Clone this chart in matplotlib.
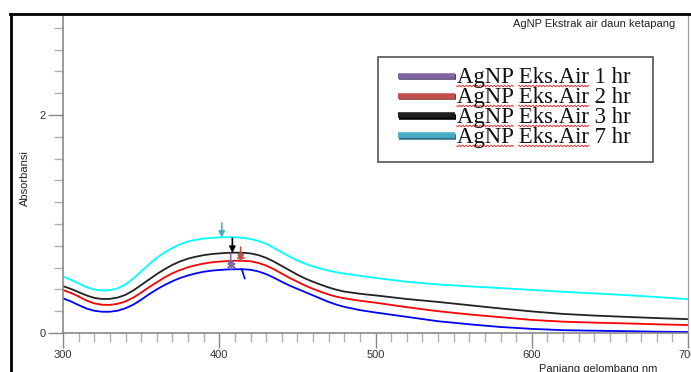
"""UV-Vis absorbance of AgNP (ketapang leaf water extract) at 1, 2, 3 and 7 hr."""
import numpy as np
import matplotlib

matplotlib.use("Agg")
import matplotlib.pyplot as plt
import matplotlib.patheffects as pe
from matplotlib.lines import Line2D
from matplotlib.patches import Rectangle
from matplotlib.ticker import MultipleLocator
from matplotlib.transforms import IdentityTransform

W, H = 691, 372

wavelength = [300, 305, 310, 315, 320, 325, 330, 335, 340, 345, 350, 355, 360, 365, 370,
              375, 380, 385, 390, 395, 400, 405, 410, 415, 420, 425, 430, 435, 440, 445,
              450, 455, 460, 465, 470, 475, 480, 490, 500, 520, 540, 560, 580, 600, 620,
              640, 660, 680, 700]
abs_7hr = [0.517, 0.488, 0.455, 0.420, 0.398, 0.390, 0.392, 0.410, 0.445, 0.500, 0.565,
           0.630, 0.690, 0.740, 0.780, 0.815, 0.840, 0.855, 0.866, 0.873, 0.877, 0.879,
           0.878, 0.873, 0.862, 0.845, 0.818, 0.780, 0.740, 0.700, 0.665, 0.635, 0.610,
           0.590, 0.572, 0.557, 0.545, 0.525, 0.505, 0.470, 0.445, 0.428, 0.412, 0.395,
           0.378, 0.363, 0.348, 0.330, 0.310]
abs_3hr = [0.430, 0.405, 0.375, 0.345, 0.322, 0.312, 0.313, 0.325, 0.350, 0.390, 0.440,
           0.490, 0.540, 0.585, 0.625, 0.657, 0.682, 0.700, 0.714, 0.724, 0.730, 0.735,
           0.737, 0.736, 0.730, 0.715, 0.690, 0.655, 0.615, 0.575, 0.535, 0.500, 0.470,
           0.443, 0.418, 0.397, 0.380, 0.360, 0.345, 0.312, 0.285, 0.255, 0.225, 0.198,
           0.175, 0.160, 0.148, 0.137, 0.127]
abs_2hr = [0.394, 0.368, 0.335, 0.298, 0.272, 0.259, 0.258, 0.268, 0.290, 0.325, 0.370,
           0.420, 0.465, 0.510, 0.548, 0.578, 0.603, 0.622, 0.637, 0.648, 0.655, 0.660,
           0.663, 0.663, 0.658, 0.643, 0.618, 0.585, 0.545, 0.505, 0.470, 0.435, 0.405,
           0.378, 0.353, 0.333, 0.318, 0.296, 0.278, 0.237, 0.200, 0.170, 0.145, 0.120,
           0.104, 0.095, 0.088, 0.080, 0.073]
abs_1hr = [0.318, 0.290, 0.256, 0.225, 0.204, 0.195, 0.195, 0.205, 0.227, 0.260, 0.305,
           0.355, 0.400, 0.440, 0.475, 0.505, 0.528, 0.547, 0.562, 0.572, 0.578, 0.583,
           0.585, 0.585, 0.580, 0.565, 0.540, 0.507, 0.470, 0.435, 0.405, 0.375, 0.345,
           0.315, 0.285, 0.260, 0.240, 0.210, 0.188, 0.148, 0.108, 0.080, 0.055, 0.038,
           0.026, 0.021, 0.017, 0.012, 0.009]

# peak-pick arrows (7 hr, 3 hr, 2 hr, 1 hr)
peak_nm = [401.6, 408.4, 413.7, 407.3]
peak_abs = [0.874, 0.734, 0.654, 0.594]
hook_nm = [414.3, 415.0, 415.6, 416.3]
hook_abs = [0.585, 0.560, 0.530, 0.500]

legend_labels = ["AgNP Eks.Air 1 hr", "AgNP Eks.Air 2 hr", "AgNP Eks.Air 3 hr", "AgNP Eks.Air 7 hr"]
legend_colors = ["#8064a2", "#c0504d", "#1e1e1e", "#4bacc6"]
legend_shadow = ["#4f3d66", "#7d2f2d", "#000000", "#2b7288"]

plt.rcParams["font.family"] = ["Liberation Sans", "DejaVu Sans"]
fig = plt.figure(figsize=(W / 100, H / 100), dpi=100)
ax = fig.add_axes([63 / W, 1 - 333 / H, (688 - 63) / W, (333 - 14) / H])

for y, c in [(abs_1hr, "#0000ff"), (abs_2hr, "#ff0000"), (abs_3hr, "#222222"), (abs_7hr, "#00ffff")]:
    ax.plot(wavelength, y, color=c, lw=1.3)

for nm, a, c in zip(peak_nm, peak_abs, ["#4bacc6", "#000000", "#c0504d", "#8064a2"]):
    ax.annotate("", xy=(nm, a), xytext=(nm, a + 0.135),
                arrowprops=dict(arrowstyle="-|>", color=c, lw=1.2, mutation_scale=9,
                                shrinkA=0, shrinkB=0))
ax.plot(peak_nm[2], peak_abs[2] + 0.035, marker="+", ms=6, mew=1.2, color="#c0504d")
ax.plot(peak_nm[3], peak_abs[3] + 0.03, marker=(6, 2, 0), ms=6, mew=1, color="#8064a2")
ax.plot(hook_nm, hook_abs, color="#0000ff", lw=1.2)

ax.set_xlim(300, 700); ax.set_ylim(0, (333 - 14) / 109)
ax.set_xticks(range(300, 701, 100)); ax.set_yticks([0, 2])
ax.xaxis.set_minor_locator(MultipleLocator(10)); ax.yaxis.set_minor_locator(MultipleLocator(0.2))
ax.tick_params(which="major", length=10.5, width=1, color="#888888", labelsize=8,
               labelcolor="#333333", pad=2)
ax.tick_params(which="minor", length=6.5, width=1, color="#b0b0b0")
ax.spines["top"].set_visible(False)
for s in ["left", "bottom"]:
    ax.spines[s].set_color("#808080"); ax.spines[s].set_linewidth(1.1)
ax.spines["right"].set_color("#a0a0a0"); ax.spines["right"].set_linewidth(0.9)

ax.set_ylabel("Absorbansi", fontsize=8, color="#222222")
ax.yaxis.set_label_coords(-0.053, 0.485)
ax.set_xlabel("Panjang gelombang nm", fontsize=8, color="#222222")
ax.xaxis.set_label_coords(0.856, -0.098)
ax.text(0.979, 0.969, "AgNP Ekstrak air daun ketapang", transform=ax.transAxes,
        ha="right", va="center", fontsize=8, color="#222222")

handles = [Line2D([], [], color=c, lw=4, solid_capstyle="butt",
                  path_effects=[pe.SimpleLineShadow(offset=(0.6, -1.2), shadow_color=s, alpha=1),
                                pe.Normal()])
           for c, s in zip(legend_colors, legend_shadow)]
leg = fig.legend(handles, legend_labels, loc="upper left", bbox_to_anchor=(398 / W, 1 - 67.5 / H),
                 frameon=False, borderpad=0, borderaxespad=0, handlelength=2.5,
                 handletextpad=0.08, labelspacing=-0.045,
                 prop={"family": ["Liberation Serif", "DejaVu Serif"], "size": 16.4})
for t in leg.get_texts():
    t.set_color("#111111")
fig.add_artist(Rectangle((378 / W, 1 - 162 / H), (653 - 378) / W, (162 - 57) / H,
                         transform=fig.transFigure, fill=False, ec="#555555", lw=1.2))

# page frame (document border, top and left only)
fig.add_artist(Line2D([10 / W, 1], [1 - 14 / H] * 2, color="black", lw=2, transform=fig.transFigure))
fig.add_artist(Line2D([11 / W] * 2, [0, 1 - 14 / H], color="black", lw=2, transform=fig.transFigure))

# spell-check squiggles under "AgNP" and "Eks.Air"
fig.canvas.draw()
r = fig.canvas.get_renderer()
for t in leg.get_texts():
    bb = t.get_window_extent(r)
    fp = t.get_fontproperties()
    _, _, desc = r.get_text_width_height_descent("Ag", fp, ismath=False)
    w1 = r.get_text_width_height_descent("AgNP", fp, ismath=False)[0]
    w2 = r.get_text_width_height_descent("AgNP ", fp, ismath=False)[0]
    w3 = r.get_text_width_height_descent("AgNP Eks.Air", fp, ismath=False)[0]
    base = bb.y0 + desc - 2.5
    for a, b in [(0, w1), (w2, w3)]:
        xs = np.arange(bb.x0 + a, bb.x0 + b, 0.5)
        fig.add_artist(Line2D(xs, base + 0.8 * np.sin(xs * 2 * np.pi / 3.5), color="#e02020",
                              lw=0.6, transform=IdentityTransform()))

fig.savefig("out.png", dpi=100)
